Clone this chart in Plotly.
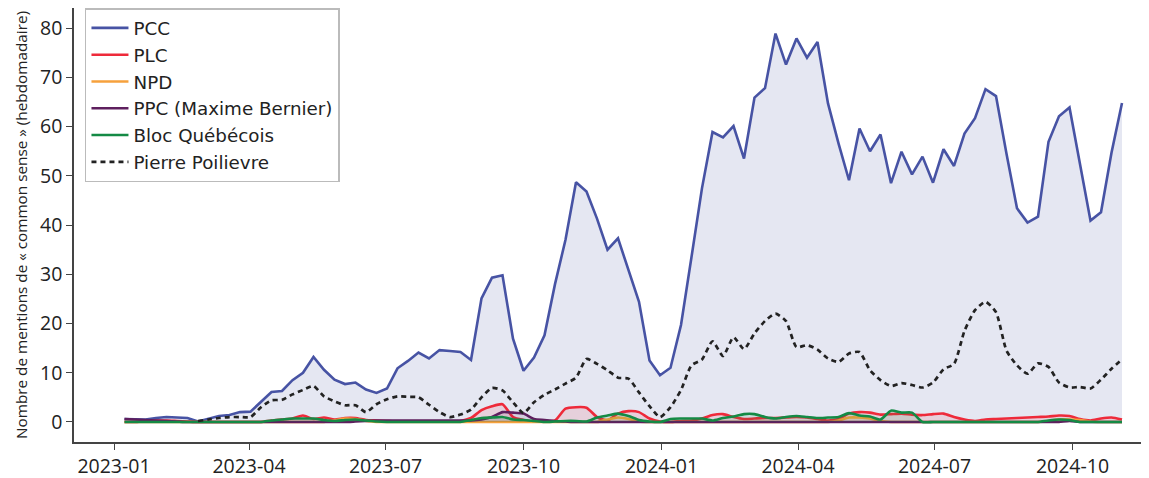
import pandas as pd
import plotly.graph_objects as go

dates = pd.date_range("2023-01-08", periods=96, freq="7D")

pcc = [0.6, 0.5, 0.5, 0.8, 1.0, 0.9, 0.8, 0.1, 0.7, 1.2, 1.4, 2.0, 2.1, 4.0, 6.1, 6.3,
       8.5, 10.0, 13.2, 10.6, 8.6, 7.7, 8.0, 6.6, 5.9, 6.8, 10.9, 12.4, 14.1, 12.9, 14.6, 14.4,
       14.2, 12.6, 25.1, 29.3, 29.8, 16.9, 10.4, 13.1, 17.6, 28.0, 37.0, 48.7, 46.8, 41.3, 35.0, 37.3,
       30.8, 24.4, 12.5, 9.5, 11.0, 19.7, 33.5, 47.5, 58.9, 57.8, 60.1, 53.5, 65.9, 67.8, 78.9, 72.6,
       77.9, 74.0, 77.2, 64.7, 56.6, 49.1, 59.6, 55.0, 58.4, 48.5, 54.9, 50.3, 53.9, 48.6, 55.4, 52.0,
       58.6, 61.7, 67.6, 66.2, 54.5, 43.4, 40.5, 41.7, 56.9, 62.1, 63.9, 52.0, 40.9, 42.6, 54.7, 64.8]

plc = [0, 0, 0.2, 0.3, 0.3, 0.2, 0.1, 0, 0, 0, 0, 0, 0, 0, 0.3, 0.5,
       0.7, 1.3, 0.6, 0.9, 0.5, 0.8, 0.8, 0.4, 0.3, 0.2, 0.1, 0.1, 0.1, 0.1, 0.1, 0.1,
       0.2, 0.8, 2.4, 3.2, 3.6, 1.0, 0.4, 0.1, 0.1, 0.3, 2.7, 3.0, 2.9, 1.0, 0.3, 1.7,
       2.2, 2.0, 0.7, 0.1, 0, 0.2, 0.3, 0.7, 1.4, 1.6, 1.0, 0.6, 0.7, 0.8, 0.8, 0.9,
       1.0, 0.9, 0.6, 0.3, 0.6, 1.7, 2.0, 1.9, 1.5, 1.6, 1.7, 1.5, 1.4, 1.6, 1.7, 1.0,
       0.5, 0.2, 0.5, 0.6, 0.7, 0.8, 0.9, 1.0, 1.1, 1.3, 1.2, 0.6, 0.3, 0.7, 0.9, 0.5]

npd = [0, 0, 0, 0, 0, 0, 0, 0, 0, 0, 0, 0, 0, 0, 0, 0,
       0, 0, 0, 0, 0.3, 0.7, 0.6, 0.2, 0, 0, 0, 0, 0, 0, 0, 0,
       0, 0, 0, 0, 0, 0, 0, 0, 0, 0, 0, 0, 0, 0, 0.5, 0.9,
       0.6, 0.1, 0, 0, 0, 0, 0, 0, 0, 0, 0, 0, 0, 0, 0, 0,
       0, 0, 0, 0, 0.3, 0.9, 0.9, 0.7, 0.2, 0, 0, 0, 0, 0, 0, 0,
       0, 0, 0, 0, 0, 0, 0, 0, 0.2, 0.5, 0.5, 0.4, 0.1, 0, 0, 0]

ppc = [0.6, 0.5, 0.4, 0.3, 0.2, 0.1, 0, 0, 0, 0, 0, 0, 0, 0, 0, 0,
       0, 0, 0, 0, 0, 0, 0.1, 0.2, 0.3, 0.3, 0.3, 0.3, 0.3, 0.3, 0.3, 0.3,
       0.3, 0.3, 0.5, 1.0, 2.0, 1.9, 1.7, 0.6, 0.4, 0.2, 0.1, 0, 0, 0, 0, 0,
       0, 0, 0, 0, 0, 0, 0, 0, 0, 0, 0, 0, 0, 0, 0, 0,
       0, 0, 0, 0, 0, 0, 0, 0, 0, 0, 0, 0, 0, 0, 0, 0,
       0, 0, 0, 0, 0, 0, 0, 0, 0, 0, 0.2, 0, 0, 0, 0, 0]

bloc = [0, 0, 0, 0, 0, 0, 0, 0, 0, 0, 0, 0, 0, 0, 0.3, 0.5,
        0.7, 0.7, 0.7, 0.4, 0.2, 0.4, 0.5, 0.3, 0.1, 0, 0, 0, 0, 0, 0, 0,
        0, 0.4, 0.8, 0.9, 1.0, 0.5, 0.4, 0.2, 0, 0.1, 0.2, 0.2, 0.1, 0.9, 1.3, 1.7,
        1.2, 0.4, 0.1, 0, 0.6, 0.7, 0.7, 0.7, 0.3, 0.8, 1.1, 1.6, 1.6, 1.0, 0.7, 1.0,
        1.2, 1.0, 0.8, 0.9, 1.0, 1.8, 1.3, 1.1, 0.5, 2.3, 1.9, 1.9, 0, 0, 0, 0,
        0, 0, 0, 0, 0, 0, 0, 0, 0.3, 0.5, 0.4, 0, 0, 0, 0, 0]

# Pierre Poilievre: no trace drawn for the first weeks
poilievre = [None, None, None, None, None, None, None, 0.2, 0.5, 0.8, 1.0, 1.0, 1.0, 3.0, 4.4, 4.5,
             5.6, 6.5, 7.3, 5.2, 4.2, 3.4, 3.4, 2.0, 3.6, 4.6, 5.2, 5.1, 5.0, 3.5, 2.0, 1.0,
             1.5, 2.5, 5.0, 6.9, 6.4, 4.0, 1.8, 4.0, 5.5, 6.6, 7.8, 9.0, 12.8, 11.8, 10.5, 9.0,
             8.8, 6.0, 3.2, 1.0, 3.0, 6.5, 11.5, 12.7, 16.4, 13.4, 17.2, 14.8, 18.0, 20.5, 22.0, 20.5,
             15.2, 15.6, 14.7, 12.9, 12.2, 13.9, 14.2, 10.5, 8.5, 7.3, 7.9, 7.5, 7.0, 8.0, 10.7, 11.8,
             18.5, 22.7, 24.4, 22.3, 14.5, 11.5, 9.8, 11.9, 11.2, 8.0, 7.0, 7.1, 6.8, 8.6, 10.8, 12.7]

tick_dates = ["2023-01-01", "2023-04-01", "2023-07-01", "2023-10-01",
              "2024-01-01", "2024-04-01", "2024-07-01", "2024-10-01"]
tick_text = ["2023-01", "2023-04", "2023-07", "2023-10",
             "2024-01", "2024-04", "2024-07", "2024-10"]

series = [
    ("PCC", pcc, "#4753a4", "rgba(71,83,164,0.14)", "linear"),
    ("PLC", plc, "#ee2a3a", "rgba(238,42,58,0.12)", "spline"),
    ("NPD", npd, "#f6a13c", "rgba(246,161,60,0.12)", "spline"),
    ("PPC (Maxime Bernier)", ppc, "#5e1f5e", "rgba(94,31,94,0.12)", "spline"),
    ("Bloc Québécois", bloc, "#148a45", "rgba(20,138,69,0.12)", "spline"),
]

fig = go.Figure()
# filled areas + lines (legend handled by line-only entries below)
for name, vals, col, fillc, shape in series:
    fig.add_trace(go.Scatter(
        x=dates, y=vals, name=name, mode="lines", showlegend=False,
        line=dict(color=col, width=2.6, shape=shape, smoothing=0.6),
        fill="tozeroy", fillcolor=fillc,
    ))

fig.add_trace(go.Scatter(
    x=dates, y=poilievre, name="Pierre Poilievre", mode="lines", showlegend=False,
    line=dict(color="#222222", width=2.7, dash="5px,4px", shape="spline", smoothing=0.6),
))

# legend entries (plain line samples, like the original)
for name, vals, col, fillc, shape in series:
    fig.add_trace(go.Scatter(x=[None], y=[None], name=name, mode="lines",
                             line=dict(color=col, width=2.6)))
fig.add_trace(go.Scatter(x=[None], y=[None], name="Pierre Poilievre", mode="lines",
                         line=dict(color="#222222", width=2.7, dash="5px,4px")))

font_family = "'Open Sans', Lato, sans-serif"

# The page body has an 8px margin: the figure is sized so that it fills the
# remaining 1141x470 of the window.
fig.update_layout(
    width=1141, height=470,
    margin=dict(l=66, r=0, t=0, b=36),
    paper_bgcolor="white", plot_bgcolor="white",
    font=dict(family=font_family, color="#222222", size=19),
    showlegend=True,
    legend=dict(
        x=0.0102, y=1.0, xanchor="left", yanchor="top",
        bgcolor="white", bordercolor="#bbbbbb", borderwidth=1.5,
        font=dict(size=18.3, color="#222222", family="'DejaVu Sans', sans-serif"),
        tracegroupgap=0, itemwidth=37,
    ),
    xaxis=dict(
        range=["2022-12-05 08:00", "2024-11-21"],
        tickvals=tick_dates, ticktext=tick_text,
        showgrid=False, zeroline=False,
        showline=True, linecolor="#444444", linewidth=1.5,
        ticks="outside", ticklen=6, tickwidth=1.3, tickcolor="#444444",
        tickfont=dict(size=19.5, color="#222222"),
    ),
    yaxis=dict(
        range=[-4.07, 84.09],
        tickvals=[0, 10, 20, 30, 40, 50, 60, 70, 80],
        showgrid=False, zeroline=False,
        showline=True, linecolor="#444444", linewidth=1.5,
        ticks="outside", ticklen=6, tickwidth=1.3, tickcolor="#444444",
        tickfont=dict(size=19.5, color="#222222"),
        title=dict(text="Nombre de mentions de « common sense » (hebdomadaire)",
                   font=dict(size=15.3, color="#222222"), standoff=9),
    ),
)

fig.write_html("out.html")
